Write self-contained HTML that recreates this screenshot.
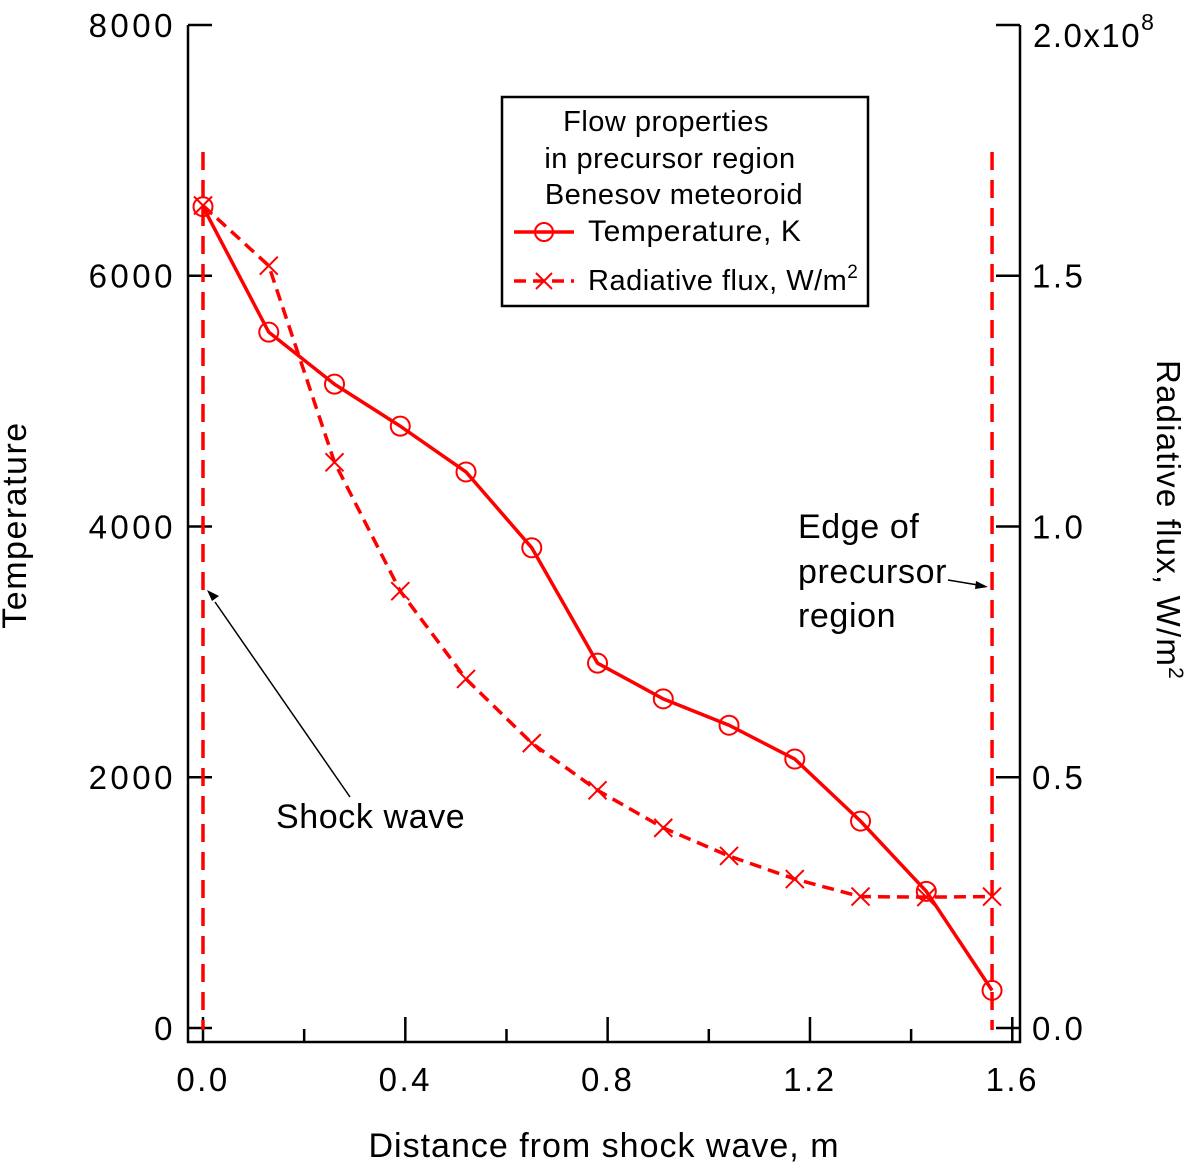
<!DOCTYPE html>
<html><head><meta charset="utf-8"><style>
html,body{margin:0;padding:0;background:#fff;}
svg text{font-family:"Liberation Sans",sans-serif;fill:#000;}
</style></head><body>
<svg id="chart" width="1200" height="1167" xmlns="http://www.w3.org/2000/svg">
<g id="axes"></g>
<g id="marks"></g>
<g>
<rect x="502" y="97" width="366" height="209" fill="#fff" stroke="#000" stroke-width="2.5"/>
<text x="666" y="131" font-size="29" letter-spacing="0.5" text-anchor="middle">Flow properties</text>
<text x="670" y="168" font-size="29" letter-spacing="0.5" text-anchor="middle">in precursor region</text>
<text x="674" y="204" font-size="29" letter-spacing="0.5" text-anchor="middle">Benesov meteoroid</text>
<line x1="514" y1="232" x2="574" y2="232" stroke="#f00" stroke-width="3.5"/>
<circle cx="544" cy="232" r="9" fill="none" stroke="#f00" stroke-width="2"/>
<text x="588" y="241" font-size="30" letter-spacing="0.6">Temperature, K</text>
<line x1="514" y1="281" x2="574" y2="281" stroke="#f00" stroke-width="3.5" stroke-dasharray="12,7"/>
<path d="M536 273 L552 289 M552 273 L536 289" stroke="#f00" stroke-width="2"/>
<text x="588" y="290" font-size="29" letter-spacing="0.5">Radiative flux, W/m<tspan dy="-12" font-size="19">2</tspan></text>
</g>
<text x="604" y="1157" font-size="34" letter-spacing="1" text-anchor="middle">Distance from shock wave, m</text>
<text transform="translate(26,525) rotate(-90)" font-size="34" letter-spacing="1.5" text-anchor="middle">Temperature</text>
<text transform="translate(1157,520) rotate(90)" font-size="33" letter-spacing="1.2" text-anchor="middle">Radiative flux, W/m<tspan dy="-12" font-size="21">2</tspan></text>
<g>
<text x="276" y="828" font-size="34" letter-spacing="0.6">Shock wave</text>
<line x1="350" y1="797" x2="215" y2="602" stroke="#000" stroke-width="1.5"/>
<path d="M207 590 L219 596 L212 601 Z" fill="#000"/>
</g>
<g>
<text x="798" y="538" font-size="34" letter-spacing="0.6">Edge of</text>
<text x="798" y="583" font-size="34" letter-spacing="0.6">precursor</text>
<text x="798" y="627" font-size="34" letter-spacing="0.6">region</text>
<line x1="948" y1="580" x2="978" y2="585" stroke="#000" stroke-width="1.5"/>
<path d="M988 587 L976 581 L975 589 Z" fill="#000"/>
</g>
<script>
const xValues=[0,0.13,0.26,0.39,0.52,0.65,0.78,0.91,1.04,1.17,1.30,1.43,1.56];
const temperature=[6550,5550,5135,4800,4435,3830,2910,2625,2415,2145,1650,1090,300];
const radFlux=[1.64e8,1.52e8,1.128e8,0.871e8,0.696e8,0.568e8,0.474e8,0.399e8,0.343e8,0.297e8,0.262e8,0.261e8,0.262e8];
const xTicks=[0,0.4,0.8,1.2,1.6];
const xTickLabels=["0.0","0.4","0.8","1.2","1.6"];
const yTicks=[0,2000,4000,6000,8000];
const y2Ticks=[0,0.5e8,1.0e8,1.5e8,2.0e8];
const y2TickLabels=["0.0","0.5","1.0","1.5",""];
const edgeLines=[0,1.56];
const NS="http://www.w3.org/2000/svg";
const X=v=>203+v*505.8;
const Y=v=>1028-v*0.12538;
const Y2=v=>1028-v*5.0152e-6;
function mk(tag,attrs,parent){const e=document.createElementNS(NS,tag);for(const k in attrs)e.setAttribute(k,attrs[k]);parent.appendChild(e);return e;}
const ax=document.getElementById('axes'),mg=document.getElementById('marks');
let e;
e=mk('path',{d:'M188 25 L188 1042 L1020 1042 L1020 25',fill:'none',stroke:'#000','stroke-width':2.5},ax);


for(let v=0;v<=1.61;v+=0.2){const maj=Math.abs((v/0.4)-Math.round(v/0.4))<1e-6;
 e=mk('line',{x1:X(v),x2:X(v),y1:1042,y2:maj?1017:1029,stroke:'#000','stroke-width':2.5},ax);
 
 }
xTicks.forEach((v,i)=>{e=mk('text',{x:X(v),y:1091,'font-size':33,'letter-spacing':2.5,'text-anchor':'middle'},ax);e.textContent=xTickLabels[i];
 
 });
yTicks.forEach(v=>{mk('line',{x1:188,x2:212,y1:Y(v),y2:Y(v),stroke:'#000','stroke-width':2.5},ax);
 e=mk('text',{x:176,y:Y(v)+12,'font-size':33,'letter-spacing':3.5,'text-anchor':'end'},ax);e.textContent=String(v);
 
 });
y2Ticks.forEach((v,i)=>{mk('line',{x1:996,x2:1020,y1:Y2(v),y2:Y2(v),stroke:'#000','stroke-width':2.5},ax);
 e=mk('text',{x:1032,y:Y2(v)+12,'font-size':33,'letter-spacing':2.5},ax);e.textContent=y2TickLabels[i];
 
 });
e=mk('text',{x:1033,y:47,'font-size':33,'letter-spacing':1.5},ax);


e.appendChild(document.createTextNode('2.0x10'));
const sup=mk('tspan',{dy:-17,'font-size':23},e);sup.textContent='8';
edgeLines.forEach(v=>{e=mk('line',{x1:X(v),x2:X(v),y1:152,y2:1030,stroke:'#f00','stroke-width':3.5,'stroke-dasharray':'18,10'},mg);
 
 });
e=mk('polyline',{points:xValues.map((x,i)=>X(x)+','+Y2(radFlux[i])).join(' '),fill:'none',stroke:'#f00','stroke-width':3.5,'stroke-dasharray':'12,7'},mg);


xValues.forEach((x,i)=>{const cx=X(x),cy=Y2(radFlux[i]);
 e=mk('path',{d:`M${cx-9} ${cy-9} L${cx+9} ${cy+9} M${cx+9} ${cy-9} L${cx-9} ${cy+9}`,stroke:'#f00','stroke-width':2},mg);
 
 });
e=mk('polyline',{points:xValues.map((x,i)=>X(x)+','+Y(temperature[i])).join(' '),fill:'none',stroke:'#f00','stroke-width':3.5},mg);


xValues.forEach((x,i)=>{e=mk('circle',{cx:X(x),cy:Y(temperature[i]),r:9.5,fill:'none',stroke:'#f00','stroke-width':2},mg);
 
 });
</script>
</svg>
</body></html>
